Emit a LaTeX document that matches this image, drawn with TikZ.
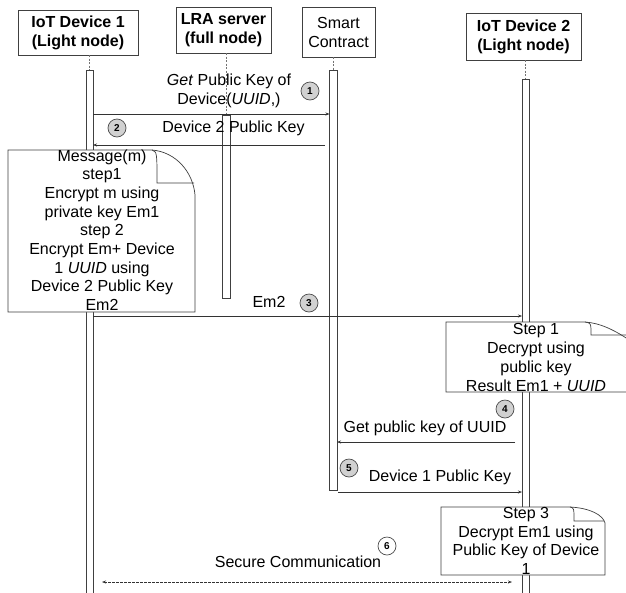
\documentclass[tikz,border=0pt]{standalone}
\usepackage{fontspec}
\setmainfont{Liberation Sans}
\usetikzlibrary{arrows.meta}
\begin{document}
\begin{tikzpicture}[x=1pt,y=-1pt,
  lbl/.style={font=\fontsize{16}{18.7}\selectfont, inner sep=0pt, align=center},
  head/.style={draw=black!75, fill=white, line width=0.8pt, inner sep=0pt, font=\fontsize{16}{19}\selectfont\bfseries, align=center},
  bar/.style={draw=black!75, fill=white, line width=0.6pt},
  life/.style={draw=black!55, dash pattern=on 2pt off 1.5pt, line width=0.6pt},
  msg/.style={draw=black!80, line width=0.6pt, -{Stealth[length=4pt,width=3pt]}},
  num/.style={circle, draw=black!70, fill=black!18, line width=0.7pt, minimum size=18pt, inner sep=0pt, font=\fontsize{10}{10}\selectfont\bfseries},
  note/.style={draw=black!75, fill=white, line width=0.7pt}
]
\useasboundingbox (0,0) rectangle (626,592);
\clip (0,0) rectangle (626,592);
\fill[white] (0,0) rectangle (626,592);

% headers
\node[head, minimum width=120pt, minimum height=45pt] (h1) at (78,32.5) {IoT Device 1\\(Light node)};
\node[head, minimum width=95pt, minimum height=46pt] (h2) at (223.5,30) {LRA server\\(full node)};
\node[head, minimum width=73pt, minimum height=50pt, font=\fontsize{16}{19}\selectfont] (h3) at (338.5,32) {Smart\\Contract};
\node[head, minimum width=115pt, minimum height=47pt] (h4) at (523.5,36.5) {IoT Device 2\\(Light node)};

% lifelines
\coordinate (l1a) at (89.5,55); \coordinate (l1b) at (89.5,70);
\coordinate (l2a) at (226,53); \coordinate (l2b) at (226,115);
\coordinate (l3a) at (333,57); \coordinate (l3b) at (333,70);
\coordinate (l4a) at (525.5,60); \coordinate (l4b) at (525.5,79);
\draw[life] (l1a) -- (l1b);
\draw[life] (l2a) -- (l2b);
\draw[life] (l3a) -- (l3b);
\draw[life] (l4a) -- (l4b);

% activation bars
\draw[bar] (86,70) rectangle (93,600);
\draw[bar] (222,115) rectangle (230,298);
\draw[bar] (329.5,70) rectangle (337,490);
\draw[bar] (522,79) rectangle (529,600);

% note 1
\draw[note] (8,150) -- (152,150) .. controls (176,152) and (193,172) .. (195,195) -- (195,312) -- (8,312) -- cycle;
\draw[note, fill=none] (152,150) .. controls (157,152) .. (157,183) -- (194,183);
\node[lbl] (n1) at (102,230) {Message(m)\\step1\\Encrypt m using\\private key Em1\\step 2\\Encrypt Em+ Device\\1 \textit{UUID} using\\Device 2 Public Key\\Em2};

% note 2
\draw[note] (446,322) -- (585,322) .. controls (600,323) and (615,330) .. (632,342) -- (632,392) -- (446,392) -- cycle;
\draw[note, fill=none] (585,322) .. controls (591,323) .. (591,335) -- (632,335);
\node[lbl, font=\fontsize{16}{19}\selectfont] (n2) at (536,357) {Step 1\\Decrypt using\\public key\\Result Em1 + \textit{UUID}};

% note 3
\draw[note] (441,507) -- (570,507) .. controls (590,508) and (603,515) .. (605,523) -- (605,575) -- (441,575) -- cycle;
\draw[note, fill=none] (570,507) .. controls (574,508) .. (574,521) -- (604,521);
\node[lbl] (n3) at (526,541) {Step 3\\Decrypt Em1 using\\Public Key of Device\\1};

% message 1
\coordinate (m1a) at (93,114); \coordinate (m1b) at (329.5,114);
\draw[msg] (m1a) -- (m1b);
\node[lbl] (t1) at (229,91) {\textit{Get} Public Key of\\Device(\textit{UUID},)};
\node[num] (c1) at (310,91) {1};

% message 2
\coordinate (m2a) at (325,145); \coordinate (m2b) at (93,145);
\draw[msg] (m2a) -- (m2b);
\node[lbl] (t2) at (233.5,128) {Device 2 Public Key};
\node[num] (c2) at (117,128) {2};

% message 3
\coordinate (m3a) at (93,316); \coordinate (m3b) at (522,316);
\draw[msg] (m3a) -- (m3b);
\node[lbl] (t3) at (269,302) {Em2};
\node[num] (c3) at (309,303) {3};

% message 4
\node[num] (c4) at (505,409) {4};
\coordinate (m4a) at (515,442); \coordinate (m4b) at (337,442);
\draw[msg] (m4a) -- (m4b);
\node[lbl] (t4) at (425,428) {Get public key of UUID};

% message 5
\node[num] (c5) at (349,468) {5};
\coordinate (m5a) at (338,492); \coordinate (m5b) at (522,492);
\draw[msg] (m5a) -- (m5b);
\node[lbl] (t5) at (440,477) {Device 1 Public Key};

% message 6
\node[lbl] (t6) at (298,562) {Secure Communication};
\node[num, fill=white] (c6) at (387,546) {6};
\coordinate (m6a) at (102,582); \coordinate (m6b) at (512,582);
\draw[msg, dash pattern=on 2.5pt off 1.5pt, {Stealth[length=4pt,width=3pt]}-{Stealth[length=4pt,width=3pt]}] (m6a) -- (m6b);
\end{tikzpicture}
\end{document}
